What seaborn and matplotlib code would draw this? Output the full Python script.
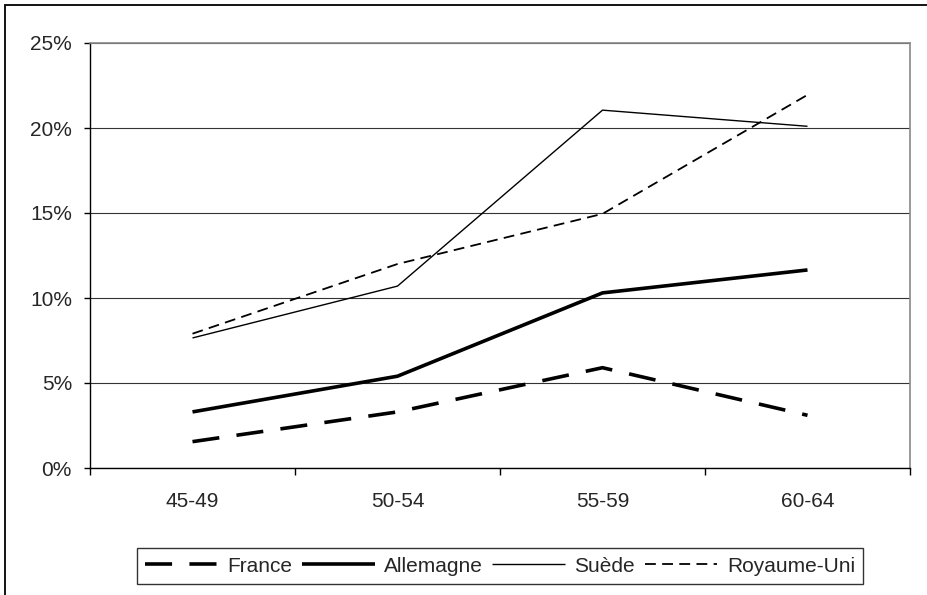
import numpy as np
import pandas as pd
import matplotlib
matplotlib.use('Agg')
import matplotlib.pyplot as plt
import matplotlib.patches as mpatches
import seaborn as sns
from matplotlib.ticker import FuncFormatter, FixedLocator

# Age groups and shares (in %) per country
age_groups = ['45-49', '50-54', '55-59', '60-64']
france = [1.55, 3.3, 5.9, 3.1]
allemagne = [3.3, 5.4, 10.3, 11.65]
suede = [7.65, 10.7, 21.05, 20.1]
royaume_uni = [7.9, 12.0, 14.95, 21.95]

series = {
    'France': france,
    'Allemagne': allemagne,
    'Suède': suede,
    'Royaume-Uni': royaume_uni,
}

# line styles: (linewidth, dashes)
styles = {
    'France': (2.6, (7.5, 4.8)),
    'Allemagne': (2.6, ''),
    'Suède': (1.0, ''),
    'Royaume-Uni': (1.3, (6.0, 3.5)),
}

sns.set_style('white')
plt.rcParams['font.family'] = ['Liberation Sans', 'DejaVu Sans']

fig = plt.figure(figsize=(9.27, 5.95), dpi=100)
ax = fig.add_axes([90 / 927, 1 - 468 / 595, 820 / 927, 425 / 595])

rows = []
for name, vals in series.items():
    for i, v in enumerate(vals):
        rows.append({'pays': name, 'pos': i, 'age': age_groups[i], 'val': v})
df = pd.DataFrame(rows)

for name in series:
    lw, dash = styles[name]
    sub = df[df['pays'] == name]
    sns.lineplot(data=sub, x='pos', y='val', ax=ax, color='black',
                 linewidth=lw, label=name, legend=False)
    ln = ax.lines[-1]
    if dash:
        ln.set_dashes(dash)
    ln.set_solid_capstyle('butt')
    ln.set_dash_capstyle('butt')

ax.set_xlim(-0.5, 3.5)
ax.set_ylim(0, 25)
ax.set_xlabel('')
ax.set_ylabel('')

# y axis
ax.set_yticks([0, 5, 10, 15, 20, 25])
ax.yaxis.set_major_formatter(FuncFormatter(lambda v, p: f'{v:.0f}%'))
ax.grid(axis='y', color='#333333', linewidth=0.8)
ax.tick_params(axis='y', which='major', left=True, length=4, width=1,
               color='black', pad=9, labelsize=15)

# x axis: ticks at category borders, labels centred
ax.xaxis.set_major_locator(FixedLocator([-0.5, 0.5, 1.5, 2.5, 3.5]))
ax.xaxis.set_minor_locator(FixedLocator([0, 1, 2, 3]))
ax.xaxis.set_major_formatter(FuncFormatter(lambda v, p: ''))
ax.xaxis.set_minor_formatter(FuncFormatter(lambda v, p: age_groups[int(round(v))]))
ax.tick_params(axis='x', which='major', bottom=True, length=5, width=1, color='black')
ax.tick_params(axis='x', which='minor', bottom=True, length=0, pad=17, labelsize=15)

for side in ['left', 'bottom']:
    ax.spines[side].set_color('black')
    ax.spines[side].set_linewidth(1.0)
for side in ['top', 'right']:
    ax.spines[side].set_color('#888888')
    ax.spines[side].set_linewidth(1.2)

handles, labels = ax.get_legend_handles_labels()
leg = fig.legend(handles, labels, loc='center', bbox_to_anchor=(500 / 927, 1 - 566 / 595),
                 ncol=4, frameon=True, fancybox=False, fontsize=15,
                 handlelength=3.5, handletextpad=0.45, columnspacing=0.45,
                 borderpad=0.4, borderaxespad=0)
leg.get_frame().set_edgecolor('black')
leg.get_frame().set_linewidth(1.0)

# outer chart border
fig.patches.append(mpatches.Rectangle((5 / 927, -0.1), 1.2, 1.1 - 5 / 595,
                                      transform=fig.transFigure, fill=False,
                                      edgecolor='black', linewidth=1.3, clip_on=False))

fig.savefig('out.png', dpi=100)
